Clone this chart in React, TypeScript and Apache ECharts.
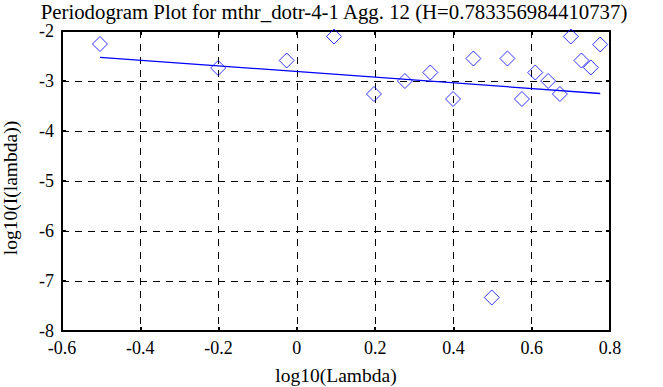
import React, { useEffect, useRef } from "react";
import * as echarts from "echarts";

const logLambda = [-0.503, -0.201, -0.026, 0.095, 0.197, 0.276, 0.341, 0.399, 0.451, 0.498, 0.538, 0.575, 0.609, 0.642, 0.672, 0.700, 0.727, 0.751, 0.775];
const logI = [-2.26, -2.74, -2.59, -2.11, -3.26, -3.00, -2.83, -3.36, -2.55, -7.33, -2.55, -3.36, -2.83, -3.00, -3.26, -2.11, -2.59, -2.73, -2.27];
const fitX = [-0.503, 0.775];
const fitY = [-2.526, -3.25];

const titleText = "Periodogram Plot for mthr_dotr-4-1 Agg. 12 (H=0.783356984410737)";
const FONT = "'Liberation Serif', 'DejaVu Serif', serif";

export default function App() {
  const ref = useRef<HTMLDivElement>(null);
  useEffect(() => {
    if (!ref.current) return;
    const chart = echarts.init(ref.current, null, { renderer: "svg" });
    const frameAxis = {
      axisLine: { show: true, onZero: false, lineStyle: { color: "#000", width: 2 } },
      axisTick: { show: true, inside: true, length: 4, lineStyle: { color: "#000", width: 2 } },
    };
    chart.setOption({
      animation: false,
      backgroundColor: "#fff",
      title: {
        text: titleText,
        left: 334,
        textAlign: "center",
        top: 1,
        padding: 0,
        textStyle: { fontFamily: FONT, fontSize: 20.8, lineHeight: 20, fontWeight: "normal", color: "#000" },
      },
      grid: { left: 62, top: 31, width: 548, height: 300, containLabel: false, outerBoundsMode: "none" },
      xAxis: [
        {
          type: "value",
          min: -0.6,
          max: 0.8,
          interval: 0.2,
          ...frameAxis,
          axisLabel: {
            fontFamily: FONT,
            fontSize: 18,
            color: "#000",
            margin: 8,
            formatter: (v: number) => String(Math.round(v * 10) / 10),
          },
          splitLine: { show: true, lineStyle: { color: "#000", type: [7, 6], width: 1 } },
          name: "log10(Lambda)",
          nameLocation: "middle",
          nameGap: 34,
          nameTextStyle: { fontFamily: FONT, fontSize: 19.5, color: "#000" },
        },
        {
          type: "value",
          position: "top",
          min: -0.6,
          max: 0.8,
          interval: 0.2,
          ...frameAxis,
          axisLabel: { show: false },
          splitLine: { show: false },
        },
      ],
      yAxis: [
        {
          type: "value",
          min: -8,
          max: -2,
          interval: 1,
          ...frameAxis,
          axisLabel: { fontFamily: FONT, fontSize: 18, lineHeight: 17, color: "#000", margin: 8 },
          splitLine: { show: true, lineStyle: { color: "#000", type: [7, 6], width: 1 } },
          name: "log10(I(lambda))",
          nameLocation: "middle",
          nameGap: 42,
          nameTextStyle: { fontFamily: FONT, fontSize: 19.5, color: "#000", padding: [0, 0, 0, -14] },
        },
        {
          type: "value",
          position: "right",
          min: -8,
          max: -2,
          interval: 1,
          ...frameAxis,
          axisLabel: { show: false },
          splitLine: { show: false },
        },
      ],
      series: [
        {
          type: "scatter",
          data: logLambda.map((x, i) => [x, logI[i]]),
          symbol: "diamond",
          symbolSize: 15,
          itemStyle: { color: "transparent", borderColor: "#0000ff", borderWidth: 1 },
          z: 3,
        },
        {
          type: "line",
          data: fitX.map((x, i) => [x, fitY[i]]),
          showSymbol: false,
          lineStyle: { color: "#0000ff", width: 1.3 },
          z: 4,
        },
      ],
    });
    return () => chart.dispose();
  }, []);
  return (
    <div
      ref={ref}
      style={{ position: "fixed", left: 0, top: 0, width: 663, height: 387, background: "#fff" }}
    />
  );
}
